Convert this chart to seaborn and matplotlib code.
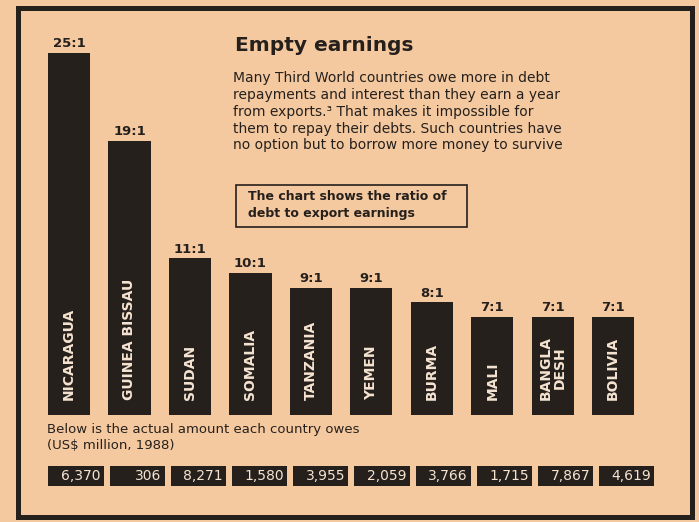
import numpy as np
import pandas as pd
import matplotlib.pyplot as plt
import seaborn as sns
from matplotlib.patches import Rectangle

# ------------------------------------------------------------ #
# Empty earnings - ratio of debt to export earnings
# ------------------------------------------------------------ #

countries = ['Nicaragua', 'Guinea Bissau', 'Sudan', 'Somalia', 'Tanzania',
             'Yemen', 'Burma', 'Mali', 'Bangladesh', 'Bolivia']
bar_labels = ['NICARAGUA', 'GUINEA BISSAU', 'SUDAN', 'SOMALIA', 'TANZANIA',
              'YEMEN', 'BURMA', 'MALI', 'BANGLA\nDESH', 'BOLIVIA']
ratios = [25, 19, 11, 10, 9, 9, 8, 7, 7, 7]
debt_musd = [6370, 306, 8271, 1580, 3955, 2059, 3766, 1715, 7867, 4619]

title = 'Empty earnings'
intro = ('Many Third World countries owe more in debt\n'
         'repayments and interest than they earn a year\n'
         'from exports.\u00b3 That makes it impossible for\n'
         'them to repay their debts. Such countries have\n'
         'no option but to borrow more money to survive')
note = 'The chart shows the ratio of\ndebt to export earnings'
below = 'Below is the actual amount each country owes\n(US$ million, 1988)'

PAPER = '#f4c9a0'
INK = '#26201c'
LIGHT = '#f6e4d2'

sns.set_style('white')
plt.rcParams['font.family'] = ['DejaVu Sans']

W, H = 699, 522


def fx(x):
    return x / W


def fy(y):
    return 1 - y / H


fig = plt.figure(figsize=(6.99, 5.22), dpi=100, facecolor=PAPER)

# main bars
ax = fig.add_axes([fx(38.8), fy(415), (643.4 - 38.8) / W, (415 - 53) / H])
df = pd.DataFrame({'country': countries, 'ratio': ratios})
sns.barplot(data=df, x='country', y='ratio', color=INK, saturation=1,
            width=0.7, linewidth=0, ax=ax)
ax.set_xlim(-0.5, len(countries) - 0.5)
ax.set_ylim(0.32, 25)
ax.set_facecolor('none')
ax.axis('off')

for i, (lab, r) in enumerate(zip(bar_labels, ratios)):
    ax.annotate(f'{r}:1', xy=(i, r), xytext=(0, 2), textcoords='offset points',
                ha='center', va='bottom', fontsize=9.5, fontweight='bold',
                color=INK)
    ax.annotate(lab, xy=(i, 0), xycoords=('data', 'axes fraction'),
                xytext=(0, 11), textcoords='offset points', rotation=90,
                ha='center', va='bottom', multialignment='center',
                linespacing=1.05, fontsize=10, fontweight='bold', color=LIGHT)

# debt amount boxes
ax2 = fig.add_axes([fx(45.4), fy(486), (657.4 - 45.4) / W, (486 - 466) / H])
ax2.bar(np.arange(len(debt_musd)), [1] * len(debt_musd), width=0.9,
        color=INK, linewidth=0, align='center')
ax2.set_xlim(-0.5, len(debt_musd) - 0.5)
ax2.set_ylim(0, 1)
ax2.axis('off')
for i, v in enumerate(debt_musd):
    ax2.text(i + 0.4, 0.48, f'{v:,}', ha='right', va='center',
             fontsize=10, color=LIGHT)

# texts
fig.text(fx(235), fy(45), title, fontsize=14.5, fontweight='bold', color=INK,
         va='center')
fig.text(fx(233), fy(71), intro, fontsize=10, color=INK, va='top',
         linespacing=1.26)
fig.patches.append(Rectangle((fx(236), fy(227)), (467 - 236) / W, (227 - 185) / H,
                             transform=fig.transFigure, fill=False,
                             edgecolor=INK, lw=1.2))
fig.text(fx(248), fy(205), note, fontsize=9, fontweight='bold', color=INK,
         va='center', linespacing=1.3)
fig.text(fx(47), fy(423), below, fontsize=9.5, color=INK, va='top',
         linespacing=1.3)

# frame
fig.patches.append(Rectangle((fx(17.5), fy(517)), (692 - 17.5) / W, (517 - 8) / H,
                             transform=fig.transFigure, fill=False,
                             edgecolor=INK, lw=3.6))

fig.savefig('out.png', dpi=100, facecolor=PAPER)
